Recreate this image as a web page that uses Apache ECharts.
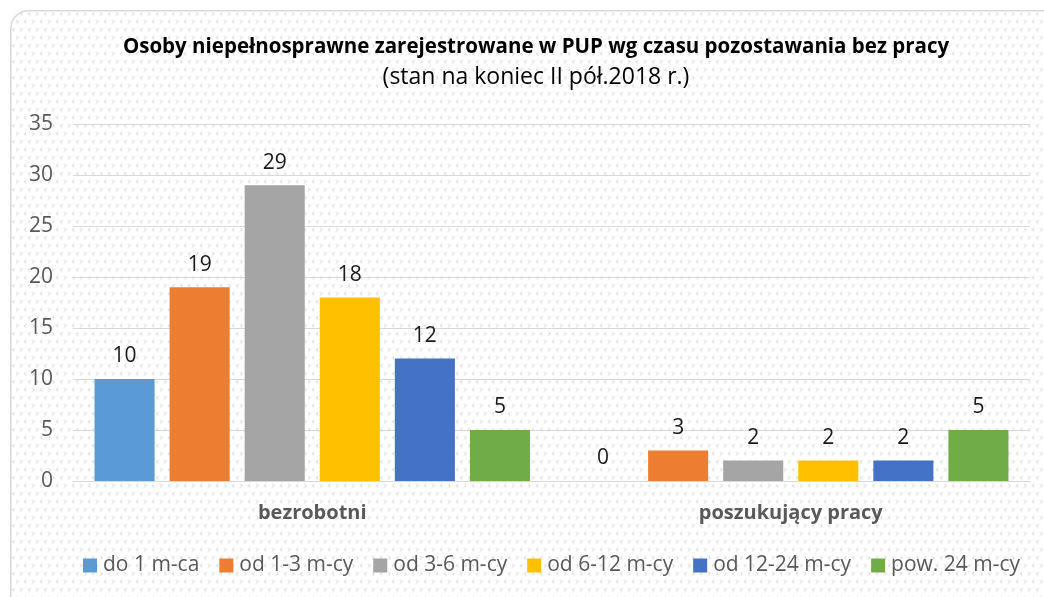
<!DOCTYPE html>
<html><head><meta charset="utf-8">
<script src="https://cdn.jsdelivr.net/npm/echarts@6/dist/echarts.min.js"></script>
<style>html,body{margin:0;padding:0;background:#fff}#c{width:1044px;height:597px}</style>
</head><body><div id="c"></div>
<script>
const categories = ['bezrobotni', 'poszukujący pracy'];
const seriesNames = ['do 1 m-ca', 'od 1-3 m-cy', 'od 3-6 m-cy', 'od 6-12 m-cy', 'od 12-24 m-cy', 'pow. 24 m-cy'];
const seriesColors = ['#5b9bd5', '#ed7d31', '#a5a5a5', '#ffc000', '#4472c4', '#70ad47'];
const valDo1 = [10, 0];
const valOd1_3 = [19, 3];
const valOd3_6 = [29, 2];
const valOd6_12 = [18, 2];
const valOd12_24 = [12, 2];
const valPow24 = [5, 5];
const seriesValues = [valDo1, valOd1_3, valOd3_6, valOd6_12, valOd12_24, valPow24];
const yTicks = {min: 0, max: 35, interval: 5};

// background pattern tile
const tile = document.createElement('canvas');
tile.width = 16; tile.height = 16;
const g = tile.getContext('2d');
g.fillStyle = '#ffffff'; g.fillRect(0,0,16,16);
g.strokeStyle = '#cfcfcf'; g.lineWidth = 1;
function lt(x,y){ g.beginPath(); g.moveTo(x+2,y); g.lineTo(x,y+1.5); g.lineTo(x+2,y+3); g.stroke(); }
function gt(x,y){ g.beginPath(); g.moveTo(x,y); g.lineTo(x+2,y+1.5); g.lineTo(x,y+3); g.stroke(); }
lt(1.5,1.5); gt(9.5,1.5); gt(5.5,9.5); lt(13.5,9.5);

const chart = echarts.init(document.getElementById('c'));
const fontFam = '"Open Sans", "Liberation Sans", sans-serif';
chart.setOption({
  backgroundColor: '#ffffff',
  animation: false,
  graphic: [{
    type: 'rect', left: 10, top: 10, z: -10, silent: true,
    shape: {x: 0, y: 0, width: 1060, height: 620, r: 18},
    style: {fill: {image: tile, repeat: 'repeat'}, stroke: '#d9d9d9', lineWidth: 1.5}
  }],
  title: {
    text: 'Osoby niepełnosprawne zarejestrowane w PUP wg czasu pozostawania bez pracy',
    subtext: '(stan na koniec II pół.2018 r.)',
    left: 531, top: 32, textAlign: 'center', itemGap: 8,
    textStyle: {fontFamily: fontFam, fontWeight: 'bold', fontSize: 20.5, color: '#000'},
    subtextStyle: {fontFamily: fontFam, fontSize: 23, color: '#000'}
  },
  legend: {
    data: seriesNames, bottom: 16, left: 78,
    icon: 'rect', itemWidth: 14, itemHeight: 14, itemGap: 20,
    textStyle: {fontFamily: fontFam, fontSize: 21, color: '#595959', padding: [0,0,0,1]}
  },
  grid: {left: 73, right: 14, top: 124, bottom: 116, containLabel: false},
  xAxis: {
    type: 'category', data: categories,
    axisLine: {lineStyle: {color: '#d9d9d9', width: 1}},
    axisTick: {show: false},
    axisLabel: {fontFamily: fontFam, fontWeight: 'bold', fontSize: 20, color: '#595959', margin: 22}
  },
  yAxis: {
    type: 'value', min: yTicks.min, max: yTicks.max, interval: yTicks.interval,
    axisLine: {show: false}, axisTick: {show: false},
    splitLine: {lineStyle: {color: '#d9d9d9', width: 1}},
    axisLabel: {fontFamily: fontFam, fontSize: 21, color: '#595959', margin: 20}
  },
  series: seriesNames.map((n, i) => ({
    name: n, type: 'bar', data: seriesValues[i],
    barGap: '25%', barCategoryGap: '9%',
    itemStyle: {color: seriesColors[i]},
    label: {show: true, position: 'top', distance: 12, fontFamily: fontFam, fontSize: 21, color: '#1a1a1a'}
  }))
});
</script></body></html>
